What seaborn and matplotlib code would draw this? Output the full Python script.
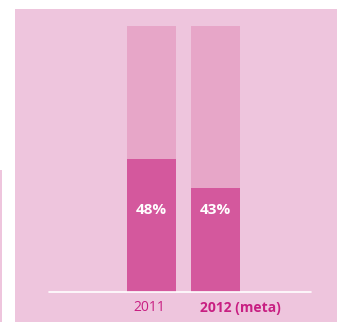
import matplotlib
matplotlib.use("Agg")
import matplotlib.pyplot as plt
import seaborn as sns
from matplotlib.patches import Rectangle

# data
years = ["2011", "2012 (meta)"]
totals = [100, 100]
shares = [50, 39]          # drawn heights of the dark part
labels = ["48%", "43%"]

panel = "#EEC5DD"
light = "#E7A6C8"
dark = "#D4589D"
magenta = "#C81F82"

sns.set_style("white")
plt.rcParams["font.family"] = ["Open Sans", "DejaVu Sans"]

fig = plt.figure(figsize=(3.37, 3.22), dpi=100)
fig.patch.set_facecolor("white")

# pink panel and thin strip on the left
fig.patches.append(Rectangle((15 / 337, 0), 1, 313 / 322, transform=fig.transFigure,
                             facecolor=panel, edgecolor="none", zorder=-5))
fig.patches.append(Rectangle((0, 0), 2 / 337, 152 / 322, transform=fig.transFigure,
                             facecolor=panel, edgecolor="none", zorder=-5))

ax = fig.add_axes([49 / 337, 30 / 322, 262 / 337, 266 / 322])
ax.set_zorder(2)
ax.set_facecolor("none")

sns.barplot(x=years, y=totals, color=light, width=0.766, saturation=1,
            linewidth=0, ax=ax)
sns.barplot(x=years, y=shares, color=dark, width=0.766, saturation=1,
            linewidth=0, ax=ax)

ax.set_xlim(-1.60, 2.49)
ax.set_ylim(0, 100)
ax.axhline(0, color="white", lw=1.2, clip_on=False)

for i, lab in enumerate(labels):
    ax.text(i, 31, lab, ha="center", va="center", color="white",
            fontsize=11, fontweight="bold")

ax.text(-0.03, -6, years[0], ha="center", va="center", color=magenta, fontsize=10)
ax.text(1.38, -6, years[1], ha="center", va="center", color=magenta,
        fontsize=10, fontweight="bold")

ax.axis("off")
fig.savefig("out.png", dpi=100)
